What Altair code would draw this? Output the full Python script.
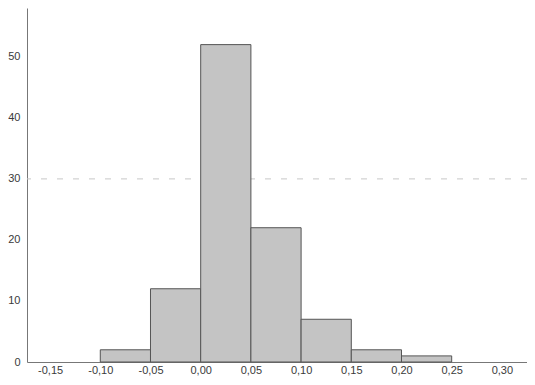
import altair as alt
import pandas as pd

bin_start = [-0.10, -0.05, 0.00, 0.05, 0.10, 0.15, 0.20]
bin_end = [-0.05, 0.00, 0.05, 0.10, 0.15, 0.20, 0.25]
counts = [2, 12, 52, 22, 7, 2, 1]
ref_line = [30]
x_ticks = [-0.15, -0.10, -0.05, 0.00, 0.05, 0.10, 0.15, 0.20, 0.25, 0.30]
y_ticks = [0, 10, 20, 30, 40, 50]

df = pd.DataFrame({"start": bin_start, "end": bin_end, "count": counts})
ref = pd.DataFrame({"y": ref_line})

xscale = alt.Scale(domain=[-0.173, 0.325], nice=False, zero=False)
yscale = alt.Scale(domain=[0, 58], nice=False)

label_expr = "replace(replace(format(datum.value, '.2f'), '.', ','), '\u2212', '-')"

bars = alt.Chart(df).mark_rect(
    fill="#c4c4c4", stroke="#555555", strokeWidth=1
).encode(
    x=alt.X("start:Q", scale=xscale,
            axis=alt.Axis(values=x_ticks, labelExpr=label_expr, title=None,
                          grid=False, ticks=False, domainColor="#777",
                          labelColor="#3a3a3a", labelFontSize=11,
                          labelFont="Liberation Sans", labelPadding=2)),
    x2="end:Q",
    y=alt.Y("count:Q", scale=yscale,
            axis=alt.Axis(values=y_ticks, title=None, grid=False, ticks=False,
                          domainColor="#777", labelColor="#3a3a3a",
                          labelFontSize=11, labelFont="Liberation Sans",
                          labelPadding=7)),
    y2=alt.datum(0),
)

rule = alt.Chart(ref).mark_rule(
    color="#c8c8c8", strokeDash=[6, 10], strokeWidth=1
).encode(y=alt.Y("y:Q", scale=yscale))

chart = alt.layer(rule, bars).properties(
    width=500, height=354,
    autosize=alt.AutoSizeParams(type="none"),
    padding={"left": 19, "top": 0, "right": 0, "bottom": 15},
).configure_view(stroke=None)

chart.save("out.html", embed_options={"renderer": "svg", "actions": False})
